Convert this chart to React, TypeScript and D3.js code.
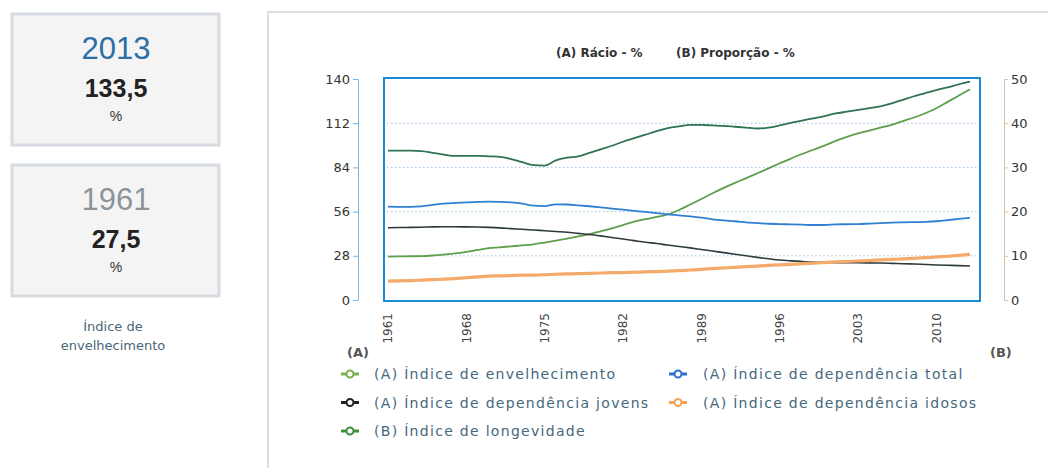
import React, { useEffect, useRef } from 'react';
import * as d3 from 'd3';

const width = 1048;
const height = 468;

// anos 1961..2013
const years = d3.range(1961, 2014);
const xTickYears = [1961, 1968, 1975, 1982, 1989, 1996, 2003, 2010];
const leftTicks = [0, 28, 56, 84, 112, 140];
const rightTicks = [0, 10, 20, 30, 40, 50];

// (A) Rácio - %
const envelhecimento = [
  27.5, 27.6, 27.7, 27.8, 28.2, 28.8, 29.5, 30.5, 31.7, 32.9,
  33.4, 34.0, 34.6, 35.3, 36.4, 37.6, 38.9, 40.3, 41.8, 43.5,
  45.3, 47.5, 49.6, 51.2, 52.6, 54.2, 57.0, 60.5, 64.0, 67.6,
  71.0, 74.2, 77.2, 80.3, 83.4, 86.6, 89.6, 92.5, 95.2, 97.8,
  100.8, 103.3, 105.5, 107.3, 109.2, 111.0, 113.3, 115.6, 118.3, 121.5,
  125.5, 129.5, 133.5,
];
const dependenciaTotal = [
  59.1, 59.0, 59.0, 59.3, 60.2, 61.1, 61.5, 61.8, 62.1, 62.3,
  62.2, 61.8, 61.0, 59.8, 59.5, 60.6, 60.5, 60.0, 59.4, 58.7,
  57.9, 57.2, 56.5, 55.8, 55.1, 54.3, 53.6, 53.0, 52.2, 51.1,
  50.4, 49.9, 49.2, 48.7, 48.3, 48.1, 47.9, 47.7, 47.5, 47.5,
  47.9, 48.0, 48.1, 48.4, 48.7, 49.0, 49.2, 49.3, 49.5, 49.9,
  50.6, 51.4, 52.1,
];
const dependenciaJovens = [
  45.8, 45.9, 46.0, 46.1, 46.3, 46.4, 46.4, 46.3, 46.2, 46.0,
  45.7, 45.2, 44.8, 44.3, 43.9, 43.4, 42.9, 42.2, 41.5, 40.6,
  39.6, 38.6, 37.6, 36.6, 35.8, 34.8, 33.9, 33.0, 32.0, 31.0,
  30.0, 29.0, 28.0, 27.0, 26.1, 25.3, 24.8, 24.4, 24.0, 23.8,
  23.7, 23.6, 23.6, 23.5, 23.4, 23.2, 23.0, 22.8, 22.5, 22.2,
  22.0, 21.8, 21.5,
];
const dependenciaIdosos = [
  12.0, 12.1, 12.3, 12.6, 12.9, 13.2, 13.6, 14.1, 14.6, 15.1,
  15.3, 15.5, 15.7, 15.8, 16.0, 16.3, 16.5, 16.7, 16.9, 17.1,
  17.3, 17.4, 17.6, 17.8, 18.0, 18.3, 18.6, 19.0, 19.4, 19.9,
  20.3, 20.7, 21.1, 21.5, 21.9, 22.3, 22.6, 23.0, 23.3, 23.7,
  24.1, 24.4, 24.7, 25.0, 25.4, 25.7, 26.0, 26.4, 26.8, 27.3,
  27.7, 28.3, 28.9,
];
// (B) Proporção - %
const longevidade = [
  33.8, 33.8, 33.8, 33.7, 33.3, 32.9, 32.6, 32.6, 32.6, 32.5,
  32.4, 31.9, 31.2, 30.5, 30.4, 31.6, 32.2, 32.5, 33.3, 34.1,
  34.9, 35.8, 36.6, 37.4, 38.2, 38.9, 39.3, 39.6, 39.6, 39.5,
  39.4, 39.2, 39.0, 38.8, 39.0, 39.5, 40.1, 40.6, 41.1, 41.6,
  42.2, 42.6, 43.0, 43.4, 43.8, 44.5, 45.3, 46.1, 46.8, 47.5,
  48.1, 48.8, 49.4,
];

const series = [
  { label: '(A) Índice de envelhecimento', values: envelhecimento, axis: 'A', color: '#5e9f4a', legendColor: '#78b04e', w: 1.8 },
  { label: '(A) Índice de dependência total', values: dependenciaTotal, axis: 'A', color: '#2f7fd2', legendColor: '#2f6fd0', w: 1.8 },
  { label: '(A) Índice de dependência jovens', values: dependenciaJovens, axis: 'A', color: '#2e3a3a', legendColor: '#222', w: 1.6 },
  { label: '(A) Índice de dependência idosos', values: dependenciaIdosos, axis: 'A', color: '#f3aa6a', legendColor: '#f5a352', w: 3.2 },
  { label: '(B) Índice de longevidade', values: longevidade, axis: 'B', color: '#2f7352', legendColor: '#3f8f3f', w: 1.8 },
];

const plot = { left: 384, right: 980, top: 78, bottom: 301 };
const sans = '"DejaVu Sans", Verdana, sans-serif';
const arial = '"Liberation Sans", Arial, sans-serif';

const xScale = d3.scaleLinear().domain([1961, 2013]).range([388, 970]);
const yLeft = d3.scaleLinear().domain([0, 140]).range([300, 79]);
const yRight = d3.scaleLinear().domain([0, 50]).range([300, 79]);

const StatBox = ({ y, year, value, yearColor }) => (
  <g>
    <rect x={12} y={y} width={207} height={131} fill="#f4f4f4" stroke="#d6dce1" strokeWidth={3} />
    <text x={116} y={y + 45} textAnchor="middle" fontFamily={arial} fontSize={31} fill={yearColor}>{year}</text>
    <text x={116} y={y + 83} textAnchor="middle" fontFamily={arial} fontSize={25} fontWeight="bold" fill="#222">{value}</text>
    <text x={116} y={y + 107} textAnchor="middle" fontFamily={arial} fontSize={14} fill="#333">%</text>
  </g>
);

export default function App() {
  const leftAxisRef = useRef(null);
  const rightAxisRef = useRef(null);

  useEffect(() => {
    const la = d3.axisLeft(yLeft).tickValues(leftTicks).tickSize(5).tickSizeOuter(0).tickPadding(3);
    const ra = d3.axisRight(yRight).tickValues(rightTicks).tickSize(4).tickSizeOuter(0).tickPadding(3);
    const l = d3.select(leftAxisRef.current).call(la);
    l.selectAll('path,line').attr('stroke', '#78b6e0');
    l.selectAll('text').attr('fill', '#333').attr('font-family', sans).attr('font-size', 13);
    const r = d3.select(rightAxisRef.current).call(ra);
    r.selectAll('path,line').attr('stroke', '#d8c2ae');
    r.selectAll('text').attr('fill', '#333').attr('font-family', sans).attr('font-size', 13);
  }, []);

  const line = (s) =>
    d3.line()
      .x((d, i) => xScale(years[i]))
      .y((d) => (s.axis === 'A' ? yLeft(d) : yRight(d)))
      .curve(d3.curveMonotoneX)(s.values);

  return (
    <svg width={width} height={height} style={{ position: 'absolute', left: 0, top: 0, background: '#fff' }}>
      {/* caixas laterais */}
      <StatBox y={14} year="2013" value="133,5" yearColor="#2b6ea6" />
      <StatBox y={165} year="1961" value="27,5" yearColor="#8c949b" />
      <text x={113} y={331} textAnchor="middle" fontFamily={sans} fontSize={13} fill="#4a6677">Índice de</text>
      <text x={113} y={350} textAnchor="middle" fontFamily={sans} fontSize={13} fill="#4a6677">envelhecimento</text>

      {/* painel */}
      <rect x={268} y={12} width={800} height={480} fill="#fff" stroke="#dedede" strokeWidth={2} />

      <text x={556} y={57} fontFamily={sans} fontSize={12} fontWeight="bold" fill="#333">(A) Rácio - %</text>
      <text x={676} y={57} fontFamily={sans} fontSize={12} fontWeight="bold" fill="#333">(B) Proporção - %</text>

      {/* grelha */}
      {leftTicks.slice(1, -1).map((t) => (
        <line key={t} x1={plot.left + 3} x2={plot.right - 3} y1={yLeft(t)} y2={yLeft(t)}
          stroke="#9cc6e8" strokeWidth={1} strokeDasharray="1.5,2.5" />
      ))}

      {series.map((s) => (
        <path key={s.label} d={line(s)} fill="none" stroke={s.color} strokeWidth={s.w} strokeLinejoin="round" />
      ))}

      <rect x={plot.left} y={plot.top} width={plot.right - plot.left} height={plot.bottom - plot.top}
        fill="none" stroke="#1d8ad4" strokeWidth={2} />

      <g ref={leftAxisRef} transform="translate(358,0)" />
      <g ref={rightAxisRef} transform="translate(1004,0)" />

      {xTickYears.map((yr) => (
        <text key={yr} transform={`translate(${xScale(yr)},313) rotate(-90)`} textAnchor="end" dy="0.35em"
          fontFamily={sans} fontSize={12} fill="#444">{yr}</text>
      ))}

      <text x={347} y={357} fontFamily={sans} fontSize={13} fontWeight="bold" fill="#555">(A)</text>
      <text x={990} y={357} fontFamily={sans} fontSize={13} fontWeight="bold" fill="#555">(B)</text>

      {/* legenda */}
      {series.map((s, k) => {
        const col = k % 2;
        const row = Math.floor(k / 2);
        const mx = col === 0 ? 350 : 678;
        const tx = col === 0 ? 374 : 703;
        const cy = 374 + row * 28.5;
        return (
          <g key={s.label}>
            <line x1={mx - 9} x2={mx + 9} y1={cy} y2={cy} stroke={s.legendColor} strokeWidth={3} />
            <circle cx={mx} cy={cy} r={3.5} fill="#fff" stroke={s.legendColor} strokeWidth={2} />
            <text x={tx} y={cy + 5} fontFamily={sans} fontSize={14} letterSpacing={1.3} fill="#46687c">{s.label}</text>
          </g>
        );
      })}
    </svg>
  );
}
